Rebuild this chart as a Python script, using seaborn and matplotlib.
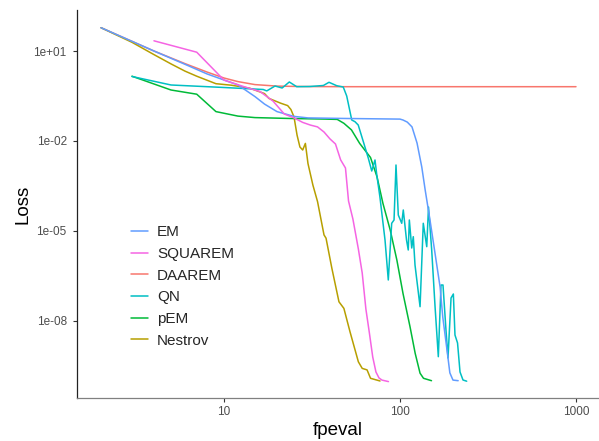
import numpy as np
import pandas as pd
import matplotlib
matplotlib.use("Agg")
import matplotlib.pyplot as plt
from matplotlib.lines import Line2D
from matplotlib.ticker import NullLocator
import seaborn as sns

# values (fpeval, log10 of the loss)
em_fpeval = [2, 4, 6, 8, 10, 12, 15, 17, 20, 25, 30, 50, 100, 104, 110, 117, 125,
             133, 139, 148, 158, 169, 175, 185, 192, 200, 214]
em_logloss = [1.777, 1.0, 0.557, 0.237, 0.033, -0.13, -0.52, -0.77, -1.02, -1.18,
              -1.23, -1.25, -1.27, -1.3, -1.37, -1.53, -2.07, -2.87, -3.63, -4.63,
              -5.73, -6.87, -7.87, -8.97, -9.73, -9.97, -9.99]

squarem_fpeval = [4, 7, 10, 13, 16, 19, 22, 25, 28, 31, 34, 37, 40, 43, 46, 49, 51,
                  54, 58, 61, 64, 67, 70, 73, 76, 79, 86]
squarem_logloss = [1.34, 0.96, 0.03, -0.19, -0.35, -0.67, -1.1, -1.23, -1.38, -1.47,
                   -1.53, -1.7, -1.93, -2.1, -2.63, -2.9, -4.0, -4.6, -5.6, -6.4,
                   -7.6, -8.4, -9.2, -9.7, -9.9, -9.97, -10.02]

daarem_fpeval = [2, 4, 6, 8, 10, 12, 15, 20, 25, 30, 50, 100, 1000]
daarem_logloss = [1.777, 1.0, 0.58, 0.3, 0.1, -0.02, -0.12, -0.17, -0.18, -0.185,
                  -0.19, -0.19, -0.19]

qn_fpeval = [3, 5, 9.5, 16.7, 17.5, 19.5, 21.4, 23.5, 25.9, 30.8, 36.7, 39.5, 43.7,
             47.6, 49.8, 53.2, 55.5, 57.9, 61.9, 66.1, 69.1, 72.1, 73.7, 76.9, 82.2,
             85.8, 89.7, 92.5, 94.9, 97.8, 102.3, 104.4, 108.9, 111.4, 113, 116.6,
             119, 121.7, 130, 135.6, 141.9, 145.2, 151.4, 158.2, 165.1, 171, 175.5,
             182.5, 187.4, 195, 201, 205.3, 212.3, 219.3, 228, 239.3]
qn_logloss = [0.15, -0.133, -0.21, -0.283, -0.33, -0.167, -0.233, -0.033, -0.19,
              -0.183, -0.15, -0.043, -0.157, -0.2, -0.5, -1.3, -1.357, -1.467,
              -2.023, -2.577, -3.0, -2.633, -3.1, -3.867, -5.3, -6.633, -4.743,
              -4.633, -2.8, -4.467, -4.743, -4.3, -5.3, -5.633, -4.633, -5.567,
              -5.19, -6.133, -7.523, -4.743, -5.523, -4.2, -5.633, -7.523, -9.19,
              -6.8, -6.8, -8.3, -9.233, -7.233, -7.1, -8.467, -8.733, -9.7, -9.967,
              -10.007]

pem_fpeval = [3, 5, 7, 9, 12, 15, 24, 38, 44, 48, 53, 59, 68, 74, 80, 88, 96, 104,
              114, 122, 130, 136, 151]
pem_logloss = [0.16, -0.3, -0.44, -1.02, -1.17, -1.22, -1.25, -1.27, -1.28, -1.41,
               -1.63, -2.08, -2.55, -3.19, -4.08, -4.97, -5.97, -7.08, -8.19, -9.08,
               -9.74, -9.91, -9.99]

nestrov_fpeval = [2, 3, 4, 5, 6, 7, 9, 11, 14, 17, 18, 21, 23, 24, 25, 26, 27, 28,
                  29, 30, 32, 34, 37, 38, 41, 45, 48, 52, 58, 61, 65, 68, 77]
nestrov_logloss = [1.777, 1.29, 0.88, 0.57, 0.33, 0.16, -0.09, -0.14, -0.24, -0.42,
                   -0.58, -0.74, -0.82, -0.95, -1.2, -1.8, -2.2, -2.3, -2.08, -2.75,
                   -3.47, -4.02, -5.13, -5.24, -6.24, -7.36, -7.58, -8.36, -9.36,
                   -9.58, -9.63, -9.91, -10.0]

series = {
    "EM": (em_fpeval, em_logloss),
    "SQUAREM": (squarem_fpeval, squarem_logloss),
    "DAAREM": (daarem_fpeval, daarem_logloss),
    "QN": (qn_fpeval, qn_logloss),
    "pEM": (pem_fpeval, pem_logloss),
    "Nestrov": (nestrov_fpeval, nestrov_logloss),
}
legend_order = ["EM", "SQUAREM", "DAAREM", "QN", "pEM", "Nestrov"]
draw_order = ["DAAREM", "Nestrov", "pEM", "QN", "EM", "SQUAREM"]
colors = {"DAAREM": "#F8766D", "Nestrov": "#B79F00", "pEM": "#00BA38",
          "QN": "#00BFC4", "EM": "#619CFF", "SQUAREM": "#F564E3"}

frames = []
for name, (fp, ll) in series.items():
    frames.append(pd.DataFrame({"fpeval": fp, "Loss": 10.0 ** np.array(ll),
                                "method": name}))
df = pd.concat(frames, ignore_index=True)

sns.set_theme(style="ticks")
plt.rcParams["font.family"] = ["Liberation Sans", "DejaVu Sans"]

fig = plt.figure(figsize=(5.99, 4.41), dpi=100)
ax = fig.add_axes([76.5 / 599, 43 / 441, 523 / 599, 388 / 441])

sns.lineplot(data=df, x="fpeval", y="Loss", hue="method", hue_order=draw_order,
             palette=colors, estimator=None, sort=True, linewidth=1.1,
             legend=False, ax=ax)

ax.set_xscale("log")
ax.set_yscale("log")
ax.set_xlim(1.452, 1360)
ax.set_ylim(2.71e-11, 232.7)
ax.set_xticks([10, 100, 1000])
ax.set_xticklabels(["10", "100", "1000"])
ax.set_yticks([1e1, 1e-2, 1e-5, 1e-8])
ax.set_yticklabels(["1e+01", "1e-02", "1e-05", "1e-08"])
ax.xaxis.set_minor_locator(NullLocator())
ax.yaxis.set_minor_locator(NullLocator())

for side in ["top", "right"]:
    ax.spines[side].set_visible(False)
ax.spines["left"].set_color("#222222")
ax.spines["bottom"].set_color("#808080")
ax.spines["left"].set_linewidth(0.9)
ax.spines["bottom"].set_linewidth(0.9)
ax.tick_params(axis="both", length=3, width=0.8, color="#333333",
               labelcolor="#4D4D4D", labelsize=8.5)
ax.tick_params(axis="y", pad=4)
ax.tick_params(axis="x", pad=2.5)

ax.set_xlabel("fpeval", fontsize=13.5, color="black", labelpad=3)
ax.set_ylabel("Loss", fontsize=13.5, color="black", labelpad=1.5)

handles = [Line2D([0], [0], color=colors[m], linewidth=1.1) for m in legend_order]
ax.legend(handles, legend_order, loc="upper left", frameon=False,
          bbox_to_anchor=(131 / 599, 1 - 225.5 / 441), bbox_transform=fig.transFigure,
          borderpad=0, borderaxespad=0, fontsize=11, handlelength=1.1,
          handletextpad=0.6, labelspacing=0.5)

fig.savefig("out.png", dpi=100)
